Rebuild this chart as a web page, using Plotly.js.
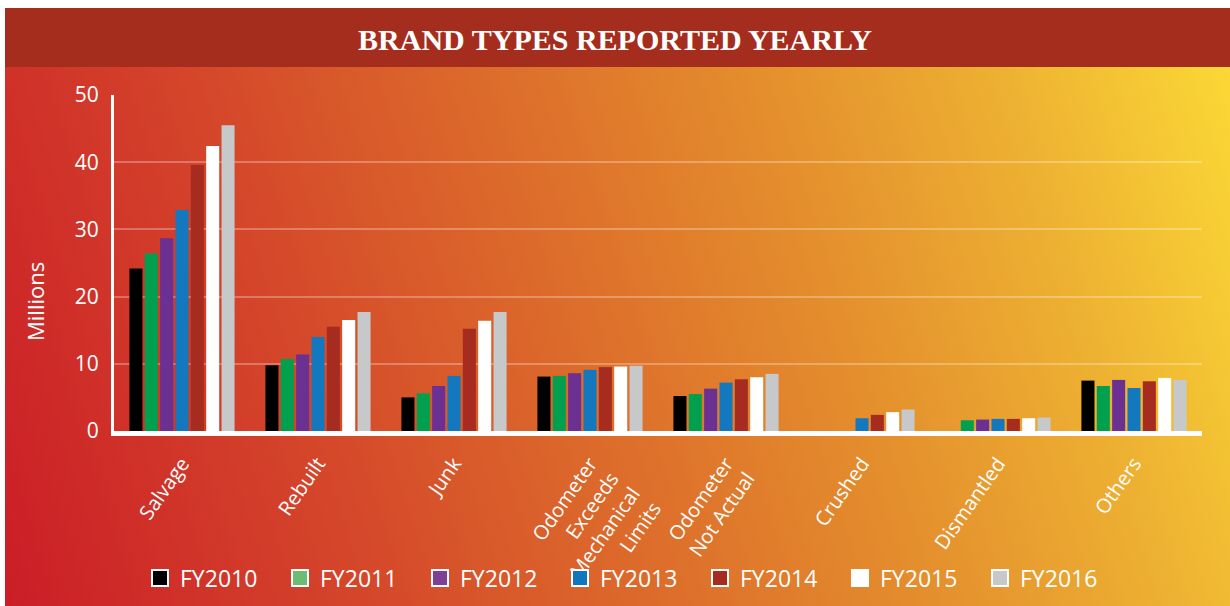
<!DOCTYPE html>
<html>
<head>
<meta charset="utf-8">
<script src="https://cdn.plot.ly/plotly-3.0.1.min.js"></script>
<style>
  html, body { margin: 0; padding: 0; background: #ffffff; }
  #wrap { position: relative; width: 1230px; height: 606px; background: #ffffff; overflow: hidden; }
  #bg { position: absolute; left: 5px; top: 8px; right: 0; bottom: 0;
        background: linear-gradient(72deg, #CB1D27 0%, #D3402A 22%, #DC6A2B 45%, #E48E2D 65%, #EDB032 82%, #FCDB36 100%); }
  #chart { position: absolute; left: 0; top: 0; width: 1230px; height: 606px; }
</style>
</head>
<body>
<div id="wrap">
  <div id="bg"></div>
  <div id="chart"></div>
</div>
<script>
// ---- Data (values in millions) ----
const categories = ['Salvage', 'Rebuilt', 'Junk',
  'Odometer<br>Exceeds<br>Mechanical<br>Limits', 'Odometer<br>Not Actual',
  'Crushed', 'Dismantled', 'Others'];
const seriesNames = ['FY2010', 'FY2011', 'FY2012', 'FY2013', 'FY2014', 'FY2015', 'FY2016'];
const fy2010 = [24.2, 9.8, 5.0, 8.1, 5.2, null, null, 7.5];
const fy2011 = [26.4, 10.7, 5.6, 8.2, 5.5, null, 1.6, 6.7];
const fy2012 = [28.7, 11.4, 6.7, 8.6, 6.3, null, 1.7, 7.6];
const fy2013 = [32.9, 14.0, 8.2, 9.1, 7.2, 1.9, 1.8, 6.4];
const fy2014 = [39.6, 15.5, 15.2, 9.5, 7.7, 2.4, 1.8, 7.4];
const fy2015 = [42.4, 16.5, 16.4, 9.6, 8.0, 2.8, 1.9, 7.9];
const fy2016 = [45.5, 17.7, 17.7, 9.7, 8.5, 3.2, 2.0, 7.6];
const yTickVals = [0, 10, 20, 30, 40, 50];

const seriesValues = [fy2010, fy2011, fy2012, fy2013, fy2014, fy2015, fy2016];
const barColors = ['#000000', '#00A04F', '#6A3192', '#1478BF', '#A52C1F', '#FFFFFF', '#C7C8CA'];
const swatchColors = ['#000000', '#6BBD73', '#7E3F98', '#1077BE', '#A52C20', '#FFFFFF', '#C7C8CA'];

const traces = [];
seriesValues.forEach((vals, i) => {
  traces.push({
    type: 'bar', x: categories, y: vals, name: seriesNames[i],
    marker: { color: barColors[i], line: { width: 0 } },
    showlegend: false, hoverinfo: 'skip'
  });
});
// legend entries (no drawn marks)
seriesValues.forEach((vals, i) => {
  traces.push({
    type: 'scatter', mode: 'markers', x: [null], y: [null], name: seriesNames[i],
    marker: { symbol: 'square', size: 16, color: swatchColors[i], line: { color: '#FFFFFF', width: 2 } },
    showlegend: true, hoverinfo: 'skip'
  });
});

const sans = '"Open Sans", "Noto Sans", sans-serif';

const layout = {
  width: 1230, height: 606,
  margin: { l: 114, r: 28, t: 95, b: 175, autoexpand: false },
  paper_bgcolor: 'rgba(0,0,0,0)',
  plot_bgcolor: 'rgba(0,0,0,0)',
  font: { family: sans, color: '#FFFFFF' },
  barmode: 'group', bargap: 0.21, bargroupgap: 0.15,
  title: {
    text: 'BRAND TYPES REPORTED YEARLY',
    font: { family: '"Liberation Serif", "DejaVu Serif", serif', size: 30, color: '#FFFFFF', weight: 'bold' },
    x: 0.5, xref: 'container', xanchor: 'center',
    y: 1 - 39 / 606, yref: 'container', yanchor: 'middle'
  },
  shapes: [{
    type: 'rect', xref: 'paper', yref: 'paper', layer: 'below',
    x0: (5 - 114) / 1088, x1: (1230 - 114) / 1088,
    y0: (431 - 67) / 336, y1: (431 - 8) / 336,
    fillcolor: '#A52D1E', line: { width: 0 }
  }],
  annotations: [{
    text: 'Millions', textangle: -90, showarrow: false,
    xref: 'paper', yref: 'paper',
    x: (35 - 114) / 1088, y: (431 - 302) / 336,
    xanchor: 'center', yanchor: 'middle',
    font: { family: sans, size: 22, color: '#FFFFFF' }
  }],
  xaxis: {
    type: 'category',
    tickangle: -55,
    tickfont: { family: sans, size: 20, color: '#FFFFFF' },
    showline: true, linecolor: '#FFFFFF', linewidth: 5,
    showgrid: false, zeroline: false, ticks: '',
    ticklabelstandoff: 8, automargin: false,
    fixedrange: true
  },
  yaxis: {
    range: [0, 50],
    tickvals: yTickVals,
    tickfont: { family: sans, size: 21, color: '#FFFFFF' },
    showline: true, linecolor: '#FFFFFF', linewidth: 3,
    showgrid: true, gridcolor: 'rgba(255,255,255,0.28)', gridwidth: 2,
    zeroline: false, ticks: '',
    ticklabelstandoff: 8, automargin: false,
    fixedrange: true
  },
  legend: {
    orientation: 'h',
    x: (140 - 114) / 1088, xanchor: 'left',
    y: (431 - 578) / 336, yanchor: 'middle',
    font: { family: sans, size: 23, color: '#FFFFFF' },
    bgcolor: 'rgba(0,0,0,0)',
    entrywidth: 95, entrywidthmode: 'pixels',
    itemwidth: 30, traceorder: 'normal'
  }
};

Plotly.newPlot('chart', traces, layout, { displayModeBar: false, staticPlot: true });
</script>
</body>
</html>
